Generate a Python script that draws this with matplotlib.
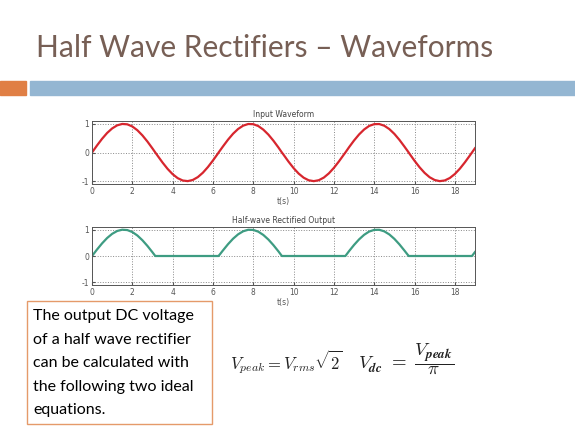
import matplotlib
matplotlib.use("Agg")
import matplotlib.pyplot as plt
from matplotlib.patches import Rectangle

plt.rcParams['mathtext.fontset'] = 'cm'
plt.rcParams['axes.unicode_minus'] = False

# Sample times (s) and waveform values
t = [0, 0.25, 0.5, 0.75, 1, 1.25, 1.5, 1.75, 2, 2.25, 2.5, 2.75, 3, 3.14,
     3.25, 3.5, 3.75, 4, 4.25, 4.5, 4.75, 5, 5.25, 5.5, 5.75, 6, 6.25, 6.28,
     6.5, 6.75, 7, 7.25, 7.5, 7.75, 8, 8.25, 8.5, 8.75, 9, 9.25, 9.42,
     9.5, 9.75, 10, 10.25, 10.5, 10.75, 11, 11.25, 11.5, 11.75, 12, 12.25, 12.5, 12.57,
     12.75, 13, 13.25, 13.5, 13.75, 14, 14.25, 14.5, 14.75, 15, 15.25, 15.5, 15.71,
     15.75, 16, 16.25, 16.5, 16.75, 17, 17.25, 17.5, 17.75, 18, 18.25, 18.5, 18.75, 18.85,
     19]
v_in = [0, 0.247, 0.479, 0.682, 0.841, 0.949, 0.997, 0.984, 0.909, 0.778, 0.598, 0.382, 0.141, 0,
        -0.108, -0.351, -0.572, -0.757, -0.895, -0.978, -0.999, -0.959, -0.859, -0.706, -0.508, -0.279, -0.033, 0,
        0.215, 0.450, 0.657, 0.823, 0.938, 0.995, 0.989, 0.923, 0.798, 0.625, 0.412, 0.174, 0,
        -0.075, -0.320, -0.544, -0.735, -0.880, -0.970, -1.0, -0.968, -0.876, -0.729, -0.537, -0.311, -0.066, 0,
        0.183, 0.420, 0.631, 0.804, 0.928, 0.990, 0.994, 0.935, 0.818, 0.650, 0.442, 0.206, 0,
        -0.042, -0.288, -0.516, -0.712, -0.864, -0.961, -1.0, -0.976, -0.891, -0.751, -0.564, -0.342, -0.099, 0,
        0.150]
v_out = [0, 0.247, 0.479, 0.682, 0.841, 0.949, 0.997, 0.984, 0.909, 0.778, 0.598, 0.382, 0.141, 0,
         0, 0, 0, 0, 0, 0, 0, 0, 0, 0, 0, 0, 0, 0,
         0.215, 0.450, 0.657, 0.823, 0.938, 0.995, 0.989, 0.923, 0.798, 0.625, 0.412, 0.174, 0,
         0, 0, 0, 0, 0, 0, 0, 0, 0, 0, 0, 0, 0, 0,
         0.183, 0.420, 0.631, 0.804, 0.928, 0.990, 0.994, 0.935, 0.818, 0.650, 0.442, 0.206, 0,
         0, 0, 0, 0, 0, 0, 0, 0, 0, 0, 0, 0, 0, 0,
         0.150]
x_ticks = [0, 2, 4, 6, 8, 10, 12, 14, 16, 18]
y_ticks = [-1, 0, 1]

W, H = 575, 434
fig = plt.figure(figsize=(W / 100, H / 100), dpi=100)
fig.patch.set_facecolor('white')

def px(x0, y0, x1, y1):
    return [x0 / W, 1 - y1 / H, (x1 - x0) / W, (y1 - y0) / H]

# Title
fig.text(265 / W, 1 - 48 / H, "Half Wave Rectifiers \u2013 Waveforms", ha='center', va='center',
         fontsize=21.5, color='#775F55', family='Lato')

# Decorative bars
fig.patches.append(Rectangle((0, 1 - 95 / H), 26 / W, 14 / H, transform=fig.transFigure,
                             color='#E07F45', zorder=1))
fig.patches.append(Rectangle((30 / W, 1 - 95 / H), 545 / W, 14 / H, transform=fig.transFigure,
                             color='#94B6D2', zorder=1))

def style(ax, title):
    ax.set_xlim(0, 19)
    ax.set_ylim(-1.1, 1.1)
    ax.set_xticks(x_ticks)
    ax.set_yticks(y_ticks)
    ax.grid(True, linestyle=':', color='#888888', linewidth=0.7)
    ax.tick_params(direction='in', length=2, labelsize=5.5, colors='#555555', pad=2)
    for s in ax.spines.values():
        s.set_color('#555555')
        s.set_linewidth(0.7)
    ax.set_title(title, fontsize=5.5, color='#444444', pad=3)
    ax.set_xlabel('t(s)', fontsize=5.5, color='#555555', labelpad=1)

ax1 = fig.add_axes(px(92, 121, 475, 184))
ax1.plot(t, v_in, color='#D7262E', linewidth=1.6)
style(ax1, 'Input Waveform')

ax2 = fig.add_axes(px(92, 227, 475, 285))
ax2.plot(t, v_out, color='#3E9C82', linewidth=1.6)
style(ax2, 'Half-wave Rectified Output')

# Text box
fig.patches.append(Rectangle((27 / W, 1 - 424 / H), 185 / W, 123 / H, transform=fig.transFigure,
                             fill=False, edgecolor='#E59A6A', linewidth=1.0, zorder=2))
lines = ["The output DC voltage", "of a half wave rectifier", "can be calculated with",
         "the following two ideal", "equations."]
ys = [316, 340, 363, 387, 410]
for s, y in zip(lines, ys):
    fig.text(33 / W, 1 - y / H, s, ha='left', va='center', fontsize=11.5, color='black', family='Lato')

# Equations
fig.text(230 / W, 1 - 362 / H, r"$V_{peak} = V_{rms}\sqrt{2}$", ha='left', va='center',
         fontsize=12, color='#222222')
fig.text(358 / W, 1 - 359 / H, r"$V_{\mathbfit{dc}}\ =\ \dfrac{V_{\mathbfit{peak}}}{\pi}$", ha='left', va='center',
         fontsize=13.5, color='#222222')

fig.savefig('out.png', dpi=100, facecolor='white')
